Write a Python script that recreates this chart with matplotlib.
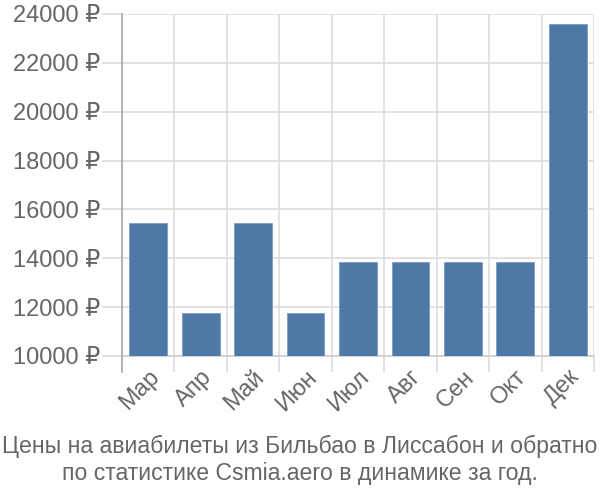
import matplotlib
matplotlib.use("Agg")
import matplotlib.pyplot as plt

months = ["Мар", "Апр", "Май", "Июн", "Июл", "Авг", "Сен", "Окт", "Дек"]
prices = [15430, 11750, 15430, 11750, 13860, 13860, 13860, 13860, 23590]
yticks = [10000, 12000, 14000, 16000, 18000, 20000, 22000, 24000]
title = "Цены на авиабилеты из Бильбао в Лиссабон и обратно\nпо статистике Csmia.aero в динамике за год."

plt.rcParams['font.family'] = ['Liberation Sans', 'DejaVu Sans']
text_color = "#666666"
grid_color = "#dddddd"
PX = 72 / 100  # points per pixel

fig = plt.figure(figsize=(6, 5), dpi=100)
ax = fig.add_axes([122/600, 1-356/500, (594-122)/600, (356-14)/500])

x = list(range(len(months)))
ax.bar(x, prices, width=0.72, bottom=0, color="#4e79a7", edgecolor="#7a9cc4", linewidth=0.6, zorder=3)

ax.set_xlim(-0.5, len(months) - 0.5)
ax.set_ylim(10000, 24000)
ax.set_yticks(yticks)
ax.set_yticklabels([f"{v} ₽" for v in yticks])

ax.set_xticks([i - 0.5 for i in range(len(months) + 1)], minor=False)
ax.set_xticklabels([""] * (len(months) + 1))
ax.set_xticks(x, minor=True)
ax.set_xticklabels(months, minor=True, rotation=45, ha="right", va="top",
                   rotation_mode="anchor", fontsize=17, color=text_color)
ax.tick_params(axis="x", which="minor", length=0, pad=10 * PX)
ax.tick_params(axis="x", which="major", length=16 * PX, color=grid_color, width=1.2)
ax.tick_params(axis="y", length=20 * PX, color=grid_color, width=1.2, labelsize=17,
               labelcolor=text_color, pad=2 * PX)

ax.grid(True, axis="y", color=grid_color, linewidth=1.2, zorder=0)
ax.grid(True, axis="x", which="major", color=grid_color, linewidth=1.2, zorder=0)

for s in ["top", "right"]:
    ax.spines[s].set_visible(False)
ax.spines["bottom"].set_color("#cccccc")
ax.spines["bottom"].set_linewidth(1.2)
ax.spines["left"].set_color("#aaaaaa")
ax.spines["left"].set_linewidth(1.2)
ax.spines["left"].set_bounds(10000, 24000)

ax.plot([-0.5, -0.5], [10000, 10000 - 16 * 14000 / 342], color="#aaaaaa",
        linewidth=1.2, clip_on=False, zorder=4)

fig.text(0.5, 1 - 460/500, title, ha="center", va="center", fontsize=16.6,
         color=text_color, linespacing=1.2)

fig.savefig("out.png", dpi=100)
